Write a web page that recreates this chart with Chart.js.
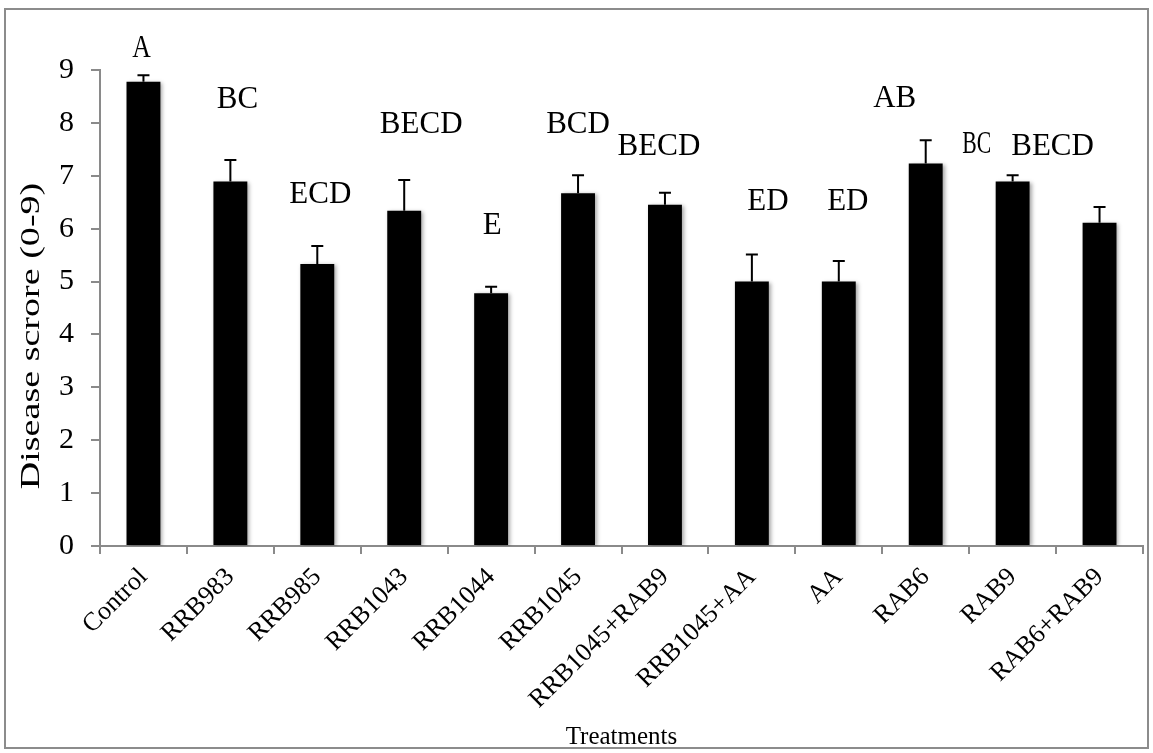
<!DOCTYPE html>
<html><head><meta charset="utf-8">
<script src="https://cdn.jsdelivr.net/npm/chart.js@4.4.1/dist/chart.umd.min.js"></script>
<style>html,body{margin:0;padding:0;background:#fff;}#wrap{position:relative;width:1153px;height:753px;}</style>
</head><body><div id="wrap"><canvas id="c" width="1153" height="753"></canvas></div>
<script>
// ---- data ----
const categories = ['Control','RRB983','RRB985','RRB1043','RRB1044','RRB1045','RRB1045+RAB9','RRB1045+AA','AA','RAB6','RAB9','RAB6+RAB9'];
const scores = [8.78, 6.89, 5.33, 6.34, 4.78, 6.67, 6.45, 5.00, 5.00, 7.23, 6.89, 6.11];
const errors = [0.12, 0.41, 0.34, 0.58, 0.12, 0.34, 0.23, 0.51, 0.39, 0.44, 0.12, 0.30];
const letters = ['A','BC','ECD','BECD','E','BCD','BECD','ED','ED','AB','BC','BECD'];
const yTicks = [0,1,2,3,4,5,6,7,8,9];
const yTitle = 'Disease scrore (0-9)';
const xTitle = 'Treatments';

// ---- layout / style of the letter annotations (baseline in axis units, x offset in px) ----
const letterLayout = [
  {y:9.25, dx:-2, sx:0.83}, {y:8.29, dx:7}, {y:6.49, dx:3}, {y:7.80, dx:17},
  {y:5.90, dx:1}, {y:7.80, dx:0}, {y:7.39, dx:-6}, {y:6.35, dx:16},
  {y:6.35, dx:9}, {y:8.30, dx:-31}, {y:7.43, dx:-36, sx:0.70}, {y:7.39, dx:-47}
];
const SERIF = '"Liberation Serif","Times New Roman",serif';
const AXIS_GRAY = '#8a8a8a';

const framePlugin = {
  id:'frame',
  beforeDraw(chart){
    const ctx = chart.ctx;
    ctx.save();
    ctx.fillStyle = '#fff';
    ctx.fillRect(0,0,chart.width,chart.height);
    ctx.strokeStyle = '#8c8c8c';
    ctx.lineWidth = 2;
    ctx.strokeRect(5, 9, chart.width-10, chart.height-14);
    ctx.restore();
  },
  beforeDatasetsDraw(chart){
    const ctx = chart.ctx;
    ctx.save();
    ctx.shadowColor = 'rgba(0,0,0,0.35)';
    ctx.shadowBlur = 4;
    ctx.shadowOffsetX = 2;
    ctx.shadowOffsetY = 1;
  },
  afterDatasetsDraw(chart){
    const ctx = chart.ctx;
    ctx.restore();
    const ys = chart.scales.y, xs = chart.scales.x;
    const meta = chart.getDatasetMeta(0);
    ctx.save();
    ctx.strokeStyle = '#000';
    ctx.lineWidth = 2;
    meta.data.forEach((bar,i)=>{
      const x = bar.x;
      const top = ys.getPixelForValue(scores[i]+errors[i]);
      ctx.beginPath();
      ctx.moveTo(x, bar.y);
      ctx.lineTo(x, top);
      ctx.moveTo(x-6, top);
      ctx.lineTo(x+6, top);
      ctx.stroke();
    });
    // letters
    ctx.fillStyle = '#000';
    ctx.font = '31px ' + SERIF;
    ctx.textAlign = 'center';
    ctx.textBaseline = 'alphabetic';
    letters.forEach((t,i)=>{
      const L = letterLayout[i];
      const x = xs.getPixelForValue(i) + L.dx;
      const y = ys.getPixelForValue(L.y);
      ctx.save();
      ctx.translate(x,y);
      ctx.scale(L.sx||1, 1);
      ctx.fillText(t,0,0);
      ctx.restore();
    });
    // y title
    ctx.save();
    ctx.font = '28px ' + SERIF;
    ctx.textAlign = 'center';
    ctx.textBaseline = 'middle';
    ctx.translate(32, 336);
    ctx.rotate(-Math.PI/2);
    ctx.scale(1.36, 1);
    ctx.fillText(yTitle, 0, 0);
    ctx.restore();
    ctx.restore();
  }
};

new Chart(document.getElementById('c'), {
  type:'bar',
  data:{
    labels: categories,
    datasets:[{data: scores, backgroundColor:'#000', borderWidth:0, barPercentage:0.39, categoryPercentage:1}]
  },
  options:{
    responsive:false,
    animation:false,
    layout:{padding:{top:70, right:10, left:0, bottom:0}},
    plugins:{legend:{display:false}, tooltip:{enabled:false}},
    scales:{
      x:{
        grid:{display:true, drawOnChartArea:false, drawTicks:true, tickLength:8, color:AXIS_GRAY, lineWidth:2, offset:true},
        border:{display:true, color:AXIS_GRAY, width:2},
        ticks:{color:'#000', font:{family:SERIF, size:26}, minRotation:45, maxRotation:45, padding:8, autoSkip:false},
        title:{display:true, text:xTitle, color:'#000', font:{family:SERIF, size:25}, padding:{top:0,bottom:1}},
        afterFit(s){ s.height = 207; }
      },
      y:{
        min:0, max:9,
        afterBuildTicks(s){ s.ticks = yTicks.map(v=>({value:v})); },
        grid:{display:true, drawOnChartArea:false, drawTicks:true, tickLength:9, color:AXIS_GRAY, lineWidth:2},
        border:{display:true, color:AXIS_GRAY, width:2},
        ticks:{color:'#000', font:{family:SERIF, size:30}, padding:17},
        afterFit(s){ s.width = 100; }
      }
    }
  },
  plugins:[framePlugin]
});
</script></body></html>
